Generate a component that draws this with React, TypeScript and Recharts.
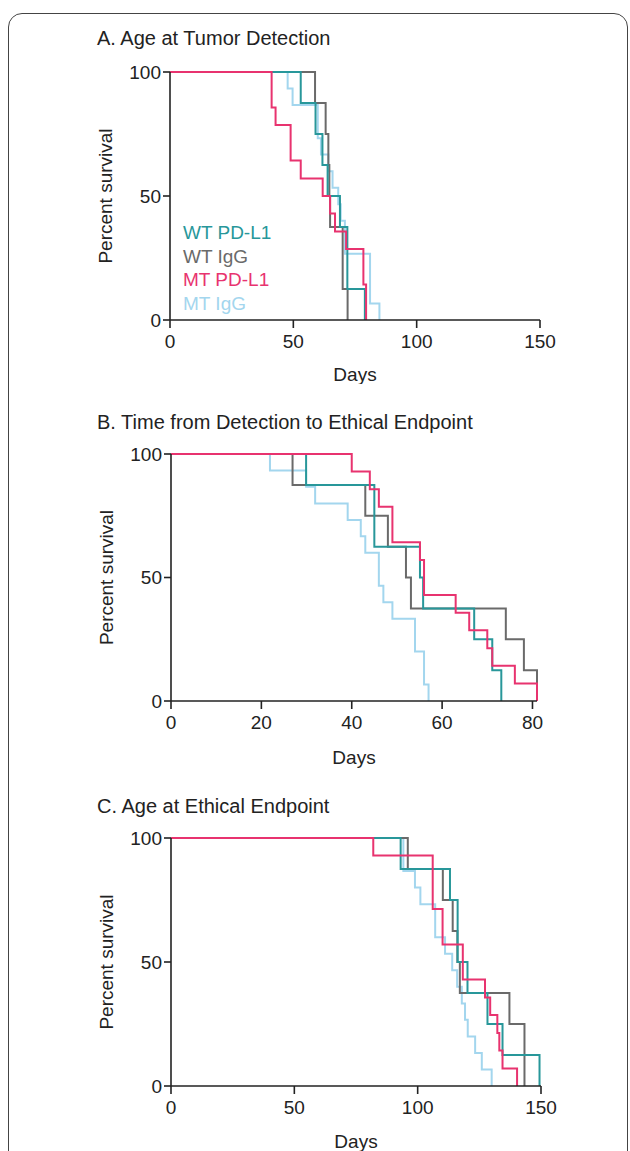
import { LineChart, Line, XAxis, YAxis, Legend } from "recharts";

const font = '"Liberation Sans", Arial, Helvetica, sans-serif';
const ink = "#222";

const groups = ["WT PD-L1", "WT IgG", "MT PD-L1", "MT IgG"];
const colors = ["#28979a", "#6a6a6a", "#e8336f", "#a3d6ee"];

// A. Age at Tumor Detection
const aWtPdl1Days = [0, 53, 59, 61.8, 63.9, 68.9, 71.9, 79];
const aWtPdl1Surv = [100, 87.5, 75, 62.5, 50, 37.5, 12.5, 0];
const aWtIggDays = [0, 58.8, 63.1, 64.2, 64.6, 64.9, 70, 72];
const aWtIggSurv = [100, 87.5, 75, 62.5, 50, 37.5, 12.5, 0];
const aMtPdl1Days = [0, 41.2, 42.8, 48.9, 53, 61.9, 64.9, 66.9, 71.4, 78.4, 79.5];
const aMtPdl1Surv = [100, 85.7, 78.6, 64.3, 57.1, 50, 42.9, 35.7, 28.6, 14.3, 0];
const aMtIggDays = [0, 47.7, 49.7, 59.9, 61.2, 64.2, 65.9, 68.2, 69.2, 70.9, 81.1, 84.9];
const aMtIggSurv = [100, 93.3, 86.7, 73.3, 66.7, 60, 53.3, 46.7, 40, 26.7, 6.7, 0];

// B. Time from Detection to Ethical Endpoint
const bWtPdl1Days = [0, 29.9, 45, 55.1, 55.8, 67.1, 71.1, 73.1];
const bWtPdl1Surv = [100, 87.5, 62.5, 50, 37.5, 25, 12.5, 0];
const bWtIggDays = [0, 26.9, 43, 48, 52, 53.1, 74.1, 78.1, 81];
const bWtIggSurv = [100, 87.5, 75, 62.5, 50, 37.5, 25, 12.5, 0];
const bMtPdl1Days = [0, 40, 44, 46, 49, 55.1, 56, 63, 66, 70, 71.1, 76.1, 81];
const bMtPdl1Surv = [100, 92.9, 85.7, 78.6, 64.3, 57.1, 42.9, 35.7, 28.6, 21.4, 14.3, 7.1, 0];
const bMtIggDays = [0, 21.9, 29.9, 31.9, 39.1, 42, 43, 46, 47, 49, 54, 56, 57];
const bMtIggSurv = [100, 93.3, 86.7, 80, 73.3, 66.7, 60, 46.7, 40, 33.3, 20, 6.7, 0];

// C. Age at Ethical Endpoint
const cWtPdl1Days = [0, 93.1, 113.1, 116.2, 120.2, 128.3, 134.4, 149.4];
const cWtPdl1Surv = [100, 87.5, 75, 50, 37.5, 25, 12.5, 0];
const cWtIggDays = [0, 96, 110.2, 114.2, 116.1, 117.1, 137.2, 143.3];
const cWtIggSurv = [100, 87.5, 75, 62.5, 50, 37.5, 25, 0];
const cMtPdl1Days = [0, 82, 106.1, 110.1, 118.3, 127.3, 129.4, 132.3, 133.1, 134.4, 140.3];
const cMtPdl1Surv = [100, 92.9, 71.4, 57.1, 42.9, 35.7, 28.6, 21.4, 14.3, 7.1, 0];
const cMtIggDays = [0, 94.2, 98.9, 101.1, 107.1, 111.1, 114, 116, 117.9, 119.2, 120.3, 123.3, 126, 130];
const cMtIggSurv = [100, 86.7, 80, 73.3, 60, 53.3, 46.7, 40, 33.3, 26.7, 20, 13.3, 6.7, 0];

const pts = (days: number[], surv: number[]) => days.map((d, i) => ({ d, s: surv[i] }));

const panels = [
  {
    title: "A. Age at Tumor Detection",
    top: 0, height: 384, titleTop: 28,
    margin: { top: 72, right: 90, bottom: 4, left: 110 },
    domain: [0, 150], ticks: [0, 50, 100, 150], daysOffset: -1,
    series: [pts(aWtPdl1Days, aWtPdl1Surv), pts(aWtIggDays, aWtIggSurv), pts(aMtPdl1Days, aMtPdl1Surv), pts(aMtIggDays, aMtIggSurv)],
    legend: true,
  },
  {
    title: "B. Time from Detection to Ethical Endpoint",
    top: 384, height: 384, titleTop: 412,
    margin: { top: 70, right: 93, bottom: 7, left: 111 },
    domain: [0, 81], ticks: [0, 20, 40, 60, 80], daysOffset: -3,
    series: [pts(bWtPdl1Days, bWtPdl1Surv), pts(bWtIggDays, bWtIggSurv), pts(bMtPdl1Days, bMtPdl1Surv), pts(bMtIggDays, bMtIggSurv)],
    legend: false,
  },
  {
    title: "C. Age at Ethical Endpoint",
    top: 768, height: 383, titleTop: 796,
    margin: { top: 70, right: 89, bottom: 5, left: 111 },
    domain: [0, 150], ticks: [0, 50, 100, 150], daysOffset: -2,
    series: [pts(cWtPdl1Days, cWtPdl1Surv), pts(cWtIggDays, cWtIggSurv), pts(cMtPdl1Days, cMtPdl1Surv), pts(cMtIggDays, cMtIggSurv)],
    legend: false,
  },
];

// draw light blue first, pink last
const drawOrder = [3, 1, 0, 2];

const LegendBox = () => (
  <div style={{ fontFamily: font, fontSize: 19, lineHeight: "23.7px" }}>
    {groups.map((g, i) => (
      <div key={g} style={{ color: colors[i], whiteSpace: "nowrap" }}>{g}</div>
    ))}
  </div>
);

export default function App() {
  return (
    <div style={{ position: "absolute", left: 0, top: 0, width: 630, height: 1151, overflow: "hidden", background: "#fff" }}>
      <div style={{ position: "absolute", left: 8, top: 13, width: 620, height: 1250, border: "1px solid #444", borderRadius: 14, boxSizing: "border-box" }} />
      {panels.map((p) => (
        <div key={p.title}>
          <div style={{ position: "absolute", left: 97, top: p.titleTop, fontFamily: font, fontSize: 20, lineHeight: "20px", color: ink, whiteSpace: "nowrap" }}>
            {p.title}
          </div>
          <div style={{ position: "absolute", left: 0, top: p.top }}>
            <LineChart width={630} height={p.height} margin={p.margin}>
              <XAxis
                type="number" dataKey="d" domain={p.domain} ticks={p.ticks} allowDecimals={false}
                height={60} tickSize={8} tickMargin={7}
                stroke={ink} strokeWidth={1.6}
                tick={{ fill: ink, fontSize: 19, fontFamily: font }}
                label={{ value: "Days", position: "insideBottom", offset: p.daysOffset, fill: ink, fontSize: 19, fontFamily: font }}
              />
              <YAxis
                type="number" domain={[0, 100]} ticks={[0, 50, 100]}
                width={60} tickSize={7} tickMargin={2}
                stroke={ink} strokeWidth={1.6}
                tick={{ fill: ink, fontSize: 19, fontFamily: font }}
                label={{ value: "Percent survival", angle: -90, position: "insideLeft", offset: -5, fill: ink, fontSize: 19, fontFamily: font, style: { textAnchor: "middle" } }}
              />
              {drawOrder.map((i) => (
                <Line
                  key={groups[i]} name={groups[i]} data={p.series[i]} dataKey="s"
                  type="stepAfter" stroke={colors[i]} strokeWidth={2} dot={false}
                  isAnimationActive={false}
                />
              ))}
              {p.legend && (
                <Legend
                  layout="horizontal" verticalAlign="middle" align="center"
                  content={() => <LegendBox />}
                  wrapperStyle={{ left: 183, top: 221, width: "auto", height: "auto" }}
                />
              )}
            </LineChart>
          </div>
        </div>
      ))}
    </div>
  );
}
